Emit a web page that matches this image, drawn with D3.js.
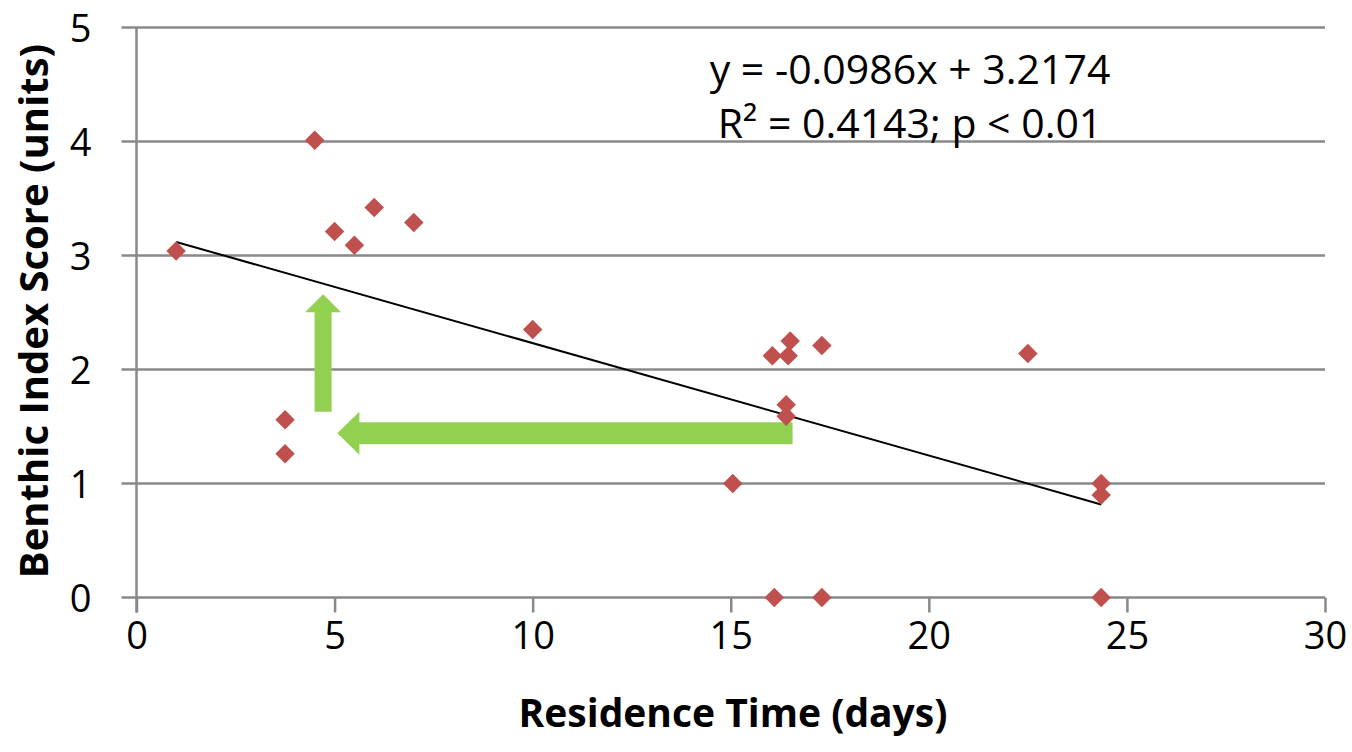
<!DOCTYPE html>
<html>
<head>
<meta charset="utf-8">
<script src="https://d3js.org/d3.v7.min.js"></script>
<style>
  html, body { margin: 0; padding: 0; background: #fff; }
  svg text { fill: #000; }
</style>
</head>
<body>
<div id="chart"></div>
<script>
// residence time (days) and benthic index score
var residenceDays = [1.0, 4.5, 5.0, 5.5, 6.0, 7.0, 3.75, 3.75, 10.0, 16.05, 16.5, 16.45, 17.3, 22.5, 16.4, 16.4, 15.05, 24.35, 24.35, 16.1, 17.3, 24.35];
var benthicScore = [3.04, 4.01, 3.21, 3.09, 3.42, 3.29, 1.56, 1.26, 2.35, 2.12, 2.25, 2.12, 2.21, 2.14, 1.69, 1.59, 1.0, 1.0, 0.9, 0.0, 0.0, 0.0];

var xTicks = [0, 5, 10, 15, 20, 25, 30];
var yTicks = [0, 1, 2, 3, 4, 5];

// linear trend from the equation shown on the chart
var slope = -0.0986, intercept = 3.2174;
var trendX = [1.0, 24.35];
var equationLines = ["y = -0.0986x + 3.2174", "R² = 0.4143; p < 0.01"];

// the two green arrows (data coords: from -> to)
var arrowUp = {from: [4.71, 1.63], to: [4.71, 2.66]};
var arrowLeft = {from: [16.56, 1.44], to: [5.07, 1.44]};

var W = 1352, H = 752;
var svg = d3.select("#chart").append("svg")
    .attr("width", W)
    .attr("height", H);

var x = d3.scaleLinear().domain([0, 30]).range([136.5, 1325]);
var y = d3.scaleLinear().domain([0, 5]).range([597.5, 27.5]);

var gridColor = "#898989";

// horizontal gridlines (they poke out left as tick marks)
svg.append("g")
  .selectAll("line")
  .data(yTicks)
  .join("line")
    .attr("x1", x(0) - 15)
    .attr("x2", x(30))
    .attr("y1", function(d) { return y(d); })
    .attr("y2", function(d) { return y(d); })
    .attr("stroke", gridColor)
    .attr("stroke-width", 2.5);

// y axis
var yAxis = svg.append("g")
    .attr("transform", "translate(" + x(0) + ",0)")
    .call(d3.axisLeft(y).tickValues(yTicks).tickSize(0).tickPadding(45).tickFormat(d3.format("d")));
yAxis.select(".domain").remove();
yAxis.selectAll("text")
    .attr("font-family", "'Open Sans', sans-serif")
    .attr("font-size", 38)
    .attr("dy", "0.36em")
    .style("fill", "#000");

svg.append("line")
    .attr("x1", x(0)).attr("x2", x(0))
    .attr("y1", y(5)).attr("y2", y(0) + 15)
    .attr("stroke", gridColor)
    .attr("stroke-width", 2.5);

// x axis
var xAxis = svg.append("g")
    .attr("transform", "translate(0," + y(0) + ")")
    .call(d3.axisBottom(x).tickValues(xTicks).tickSize(15).tickPadding(10).tickFormat(d3.format("d")));
xAxis.select(".domain").remove();
xAxis.selectAll(".tick line")
    .attr("stroke", gridColor)
    .attr("stroke-width", 2.5);
xAxis.selectAll("text")
    .attr("font-family", "'Open Sans', sans-serif")
    .attr("font-size", 38)
    .style("fill", "#000");

// green arrows
function arrowPath(a, shaftW, headW, headL) {
  var x0 = x(a.from[0]), y0 = y(a.from[1]), x1 = x(a.to[0]), y1 = y(a.to[1]);
  var len = Math.hypot(x1 - x0, y1 - y0);
  var ux = (x1 - x0) / len, uy = (y1 - y0) / len;
  var nx = -uy, ny = ux;
  var bx = x1 - ux * headL, by = y1 - uy * headL;
  var pts = [
    [x0 + nx * shaftW / 2, y0 + ny * shaftW / 2],
    [bx + nx * shaftW / 2, by + ny * shaftW / 2],
    [bx + nx * headW / 2, by + ny * headW / 2],
    [x1, y1],
    [bx - nx * headW / 2, by - ny * headW / 2],
    [bx - nx * shaftW / 2, by - ny * shaftW / 2],
    [x0 - nx * shaftW / 2, y0 - ny * shaftW / 2]
  ];
  return d3.line()(pts) + "Z";
}
svg.append("path")
    .attr("d", arrowPath(arrowUp, 17, 36, 18))
    .attr("fill", "#92D050");
svg.append("path")
    .attr("d", arrowPath(arrowLeft, 22, 43, 22))
    .attr("fill", "#92D050");

// trend line
svg.append("path")
    .datum(trendX)
    .attr("fill", "none")
    .attr("stroke", "#000")
    .attr("stroke-width", 2)
    .attr("d", d3.line()
      .x(function(d) { return x(d); })
      .y(function(d) { return y(slope * d + intercept); }));

// diamonds
var diamond = d3.symbol().type(d3.symbolSquare).size(190);
svg.append("g")
  .selectAll("path")
  .data(residenceDays)
  .join("path")
    .attr("d", diamond)
    .attr("transform", function(d, i) {
      return "translate(" + x(d) + "," + y(benthicScore[i]) + ") rotate(45)";
    })
    .attr("fill", "#C0504D");

// equation text
svg.append("g")
  .selectAll("text")
  .data(equationLines)
  .join("text")
    .attr("x", 910)
    .attr("y", function(d, i) { return 84 + i * 54; })
    .attr("text-anchor", "middle")
    .attr("font-family", "'Open Sans', sans-serif")
    .attr("font-size", 41)
    .text(function(d) { return d; });

// axis titles
svg.append("text")
    .attr("x", 733)
    .attr("y", 727)
    .attr("text-anchor", "middle")
    .attr("font-family", "'Open Sans', sans-serif")
    .attr("font-weight", "bold")
    .attr("font-size", 39)
    .text("Residence Time (days)");

svg.append("text")
    .attr("transform", "translate(48,311) rotate(-90)")
    .attr("text-anchor", "middle")
    .attr("font-family", "'Open Sans', sans-serif")
    .attr("font-weight", "bold")
    .attr("font-size", 40)
    .text("Benthic Index Score (units)");
</script>
</body>
</html>
